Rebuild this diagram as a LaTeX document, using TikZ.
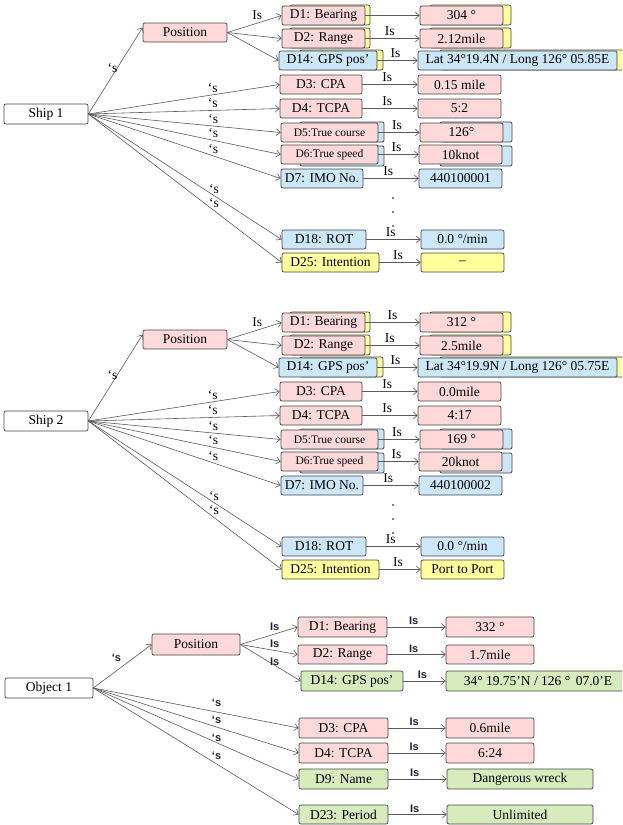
\documentclass[tikz,border=0pt]{standalone}
\usepackage{fontspec}
\setmainfont{Liberation Serif}
\newfontfamily\lblsans{Liberation Sans}
\usetikzlibrary{arrows.meta}

\definecolor{pinkF}{HTML}{FFD9D9}
\definecolor{blueF}{HTML}{CCE6FA}
\definecolor{yelF}{HTML}{FFFF9C}
\definecolor{greenF}{HTML}{D6ECBC}
\definecolor{bordc}{HTML}{454545}
\definecolor{arrc}{HTML}{5A5A5A}
\definecolor{lblc}{HTML}{1E2238}

\newcommand\bxfont{\fontsize{13.5}{15}\selectfont}
\newcommand\smfont{\fontsize{11.5}{13}\selectfont}

\tikzset{
  box/.style={draw=bordc, line width=0.7pt, rounded corners=2pt, inner sep=0pt, font=\bxfont},
  wbox/.style={box, fill=white},
  pbox/.style={box, fill=pinkF},
  bbox/.style={box, fill=blueF},
  ybox/.style={box, fill=yelF},
  gbox/.style={box, fill=greenF},
  tabY/.style={draw=bordc, line width=0.7pt, rounded corners=2pt, fill=yelF},
  tabB/.style={draw=bordc, line width=0.7pt, rounded corners=2pt, fill=blueF},
  conn/.style={draw=arrc, line width=0.6pt, -{Straight Barb[length=4pt,width=7pt]}},
  lab/.style={font=\bxfont, inner sep=0pt, text=black},
  slab/.style={font=\lblsans\bfseries\fontsize{11}{12}\selectfont, inner sep=0pt, text=lblc},
}

% box node from its corner coordinates
\newcommand\bx[7]{%
  \pgfmathsetmacro\bxw{#5-#3}%
  \pgfmathsetmacro\bxh{#6-#4}%
  \node[#2, minimum width=\bxw pt, minimum height=\bxh pt] (#1) at ({(#3+#5)/2},{(#4+#6)/2}) {#7};}
% coloured card lying behind a box
\newcommand\tabbox[5]{\draw[#1] (#2,#3) rectangle (#4,#5);}

% one ship with its data items
\newcommand\shipgroup{%
  \bx{ship}{wbox}{4}{104}{88}{124}{\shipname}
  \bx{pos}{pbox}{143}{23}{227}{42}{Position}
  \tabbox{tabY}{290}{5}{370}{25}
  \bx{d1}{pbox}{282}{6}{365}{25}{D1: Bearing}
  \tabbox{tabY}{430}{5}{511}{25}
  \bx{v1}{pbox}{420}{6}{503}{25}{\vBear}
  \tabbox{tabY}{290}{28}{370}{48}
  \bx{d2}{pbox}{282}{29}{365}{48}{D2: Range}
  \tabbox{tabY}{430}{28}{511}{48}
  \bx{v2}{pbox}{420}{29}{503}{48}{\vRange}
  \tabbox{tabY}{300}{50}{383}{70}
  \bx{d14}{bbox}{279}{51}{377}{70}{D14: GPS pos'}
  \tabbox{tabY}{440}{50}{632}{70}
  \bx{v14}{bbox}{418}{51}{617}{70}{\vGps}
  \bx{d3}{pbox}{280}{75}{362}{94}{D3: CPA}
  \bx{v3}{pbox}{418}{75}{501}{94}{\vCpa}
  \bx{d4}{pbox}{280}{99}{362}{118}{D4: TCPA}
  \bx{v4}{pbox}{418}{99}{501}{118}{\vTcpa}
  \tabbox{tabB}{300}{122}{384}{142}
  \bx{d5}{pbox,font=\smfont}{281}{123}{378}{142}{D5:True course}
  \tabbox{tabB}{440}{122}{512}{142}
  \bx{v5}{pbox}{420}{123}{503}{142}{\vCourse}
  \tabbox{tabB}{300}{146}{384}{166}
  \bx{d6}{pbox,font=\smfont}{281}{145}{378}{164}{D6:True speed}
  \tabbox{tabB}{440}{146}{512}{166}
  \bx{v6}{pbox}{419}{145}{502}{164}{\vSpeed}
  \bx{d7}{bbox}{281}{169}{363}{188}{D7: IMO No.}
  \bx{v7}{bbox}{419}{169}{502}{188}{\vImo}
  \bx{d18}{bbox}{282}{230}{366}{249}{D18: ROT}
  \bx{v18}{bbox}{421}{230}{504}{249}{0.0 °/min}
  \bx{d25}{ybox}{282}{253}{379}{272}{D25: Intention}
  \bx{v25}{ybox}{421}{253}{504}{272}{\vIntent}
  % elided items
  \fill[black] (393,198) circle (0.8) (393,212) circle (0.8) (393,226) circle (0.8);
  % ship to its items
  \draw[conn] (ship.east) -- node[lab, pos=0.5, xshift=-3pt, yshift=3pt]{‘s} ([yshift=5pt]pos.west);
  \foreach \k in {3,4,5,6,7,18,25}
    \draw[conn] (ship.east) -- node[lab, pos=0.65, yshift=7pt]{‘s} (d\k.west);
  % position to its items
  \draw[conn] (pos.east) -- node[lab, pos=0.55, yshift=8pt]{Is} (d1.west);
  \draw[conn] (pos.east) -- (d2.west);
  \draw[conn] (pos.east) -- (d14.west);
  % items to their values
  \draw[conn] (d1.east) -- node[lab, pos=0.5, yshift=7pt]{\firstIs} (v1.west);
  \foreach \k in {2,14,3,4,5,6,7,18,25}
    \draw[conn] (d\k.east) -- node[lab, pos=0.45, yshift=7pt]{Is} (v\k.west);
}

\begin{document}
\begin{tikzpicture}[x=1pt,y=-1pt]
\useasboundingbox (0,0) rectangle (622,825);
\fill[white] (0,0) rectangle (622,825);
\clip (0,0) rectangle (622,825);

\begin{scope}[name prefix=a-]
  \def\shipname{Ship 1}\def\vBear{304 °}\def\vRange{2.12mile}
  \def\vGps{Lat 34°19.4N / Long 126° 05.85E}\def\vCpa{0.15 mile}
  \def\vTcpa{5:2}\def\vCourse{126°}\def\vSpeed{10knot}
  \def\vImo{440100001}\def\vIntent{–}\def\firstIs{}
  \shipgroup
\end{scope}

\begin{scope}[shift={(0,307)}, name prefix=b-]
  \def\shipname{Ship 2}\def\vBear{312 °}\def\vRange{2.5mile}
  \def\vGps{Lat 34°19.9N / Long 126° 05.75E}\def\vCpa{0.0mile}
  \def\vTcpa{4:17}\def\vCourse{169 °}\def\vSpeed{20knot}
  \def\vImo{440100002}\def\vIntent{Port to Port}\def\firstIs{Is}
  \shipgroup
\end{scope}

% the object and its data items
\bx{obj}{wbox}{5}{678}{93}{698}{Object 1}
\bx{opos}{pbox}{152}{634}{240}{655}{Position}
\bx{od1}{pbox}{298}{617}{387}{637}{D1: Bearing}
\bx{ov1}{pbox}{446}{617}{534}{637}{332 °}
\bx{od2}{pbox}{298}{645}{387}{664}{D2: Range}
\bx{ov2}{pbox}{446}{645}{534}{664}{1.7mile}
\bx{od14}{gbox}{301}{671}{403}{691}{D14: GPS pos'}
\bx{ov14}{gbox}{446}{671}{630}{691}{34° 19.75'N / 126 °\, 07.0'E}
\bx{od3}{pbox}{299}{718}{388}{738}{D3: CPA}
\bx{ov3}{pbox}{446}{718}{534}{738}{0.6mile}
\bx{od4}{pbox}{299}{743}{388}{763}{D4: TCPA}
\bx{ov4}{pbox}{446}{743}{534}{763}{6:24}
\bx{od9}{gbox}{299}{769}{388}{789}{D9: Name}
\bx{ov9}{gbox}{447}{769}{593}{789}{Dangerous wreck}
\bx{od23}{gbox}{299}{805}{388}{824}{D23: Period}
\bx{ov23}{gbox}{447}{805}{593}{824}{Unlimited}

\draw[conn] (obj.east) -- node[slab, pos=0.43, xshift=-2pt, yshift=12pt]{‘s} (opos.west);
\draw[conn] (obj.east) -- node[slab, pos=0.6, yshift=9pt]{‘s} (od3.west);
\draw[conn] (obj.east) -- node[slab, pos=0.6, yshift=7pt]{‘s} (od4.west);
\draw[conn] (obj.east) -- node[slab, pos=0.6, yshift=5pt]{‘s} (od9.west);
\draw[conn] (obj.east) -- node[slab, pos=0.6, yshift=8pt]{‘s} (od23.west);
\draw[conn] (opos.east) -- node[slab, pos=0.6, yshift=7pt]{Is} (od1.west);
\draw[conn] (opos.east) -- node[slab, pos=0.6, yshift=7pt]{Is} (od2.west);
\draw[conn] (opos.east) -- node[slab, pos=0.57, yshift=4pt]{Is} (od14.west);
\foreach \k in {1,2,14,3,4,9,23}
  \draw[conn] (od\k.east) -- node[slab, pos=0.45, yshift=6pt]{Is} (ov\k.west);
\end{tikzpicture}
\end{document}
